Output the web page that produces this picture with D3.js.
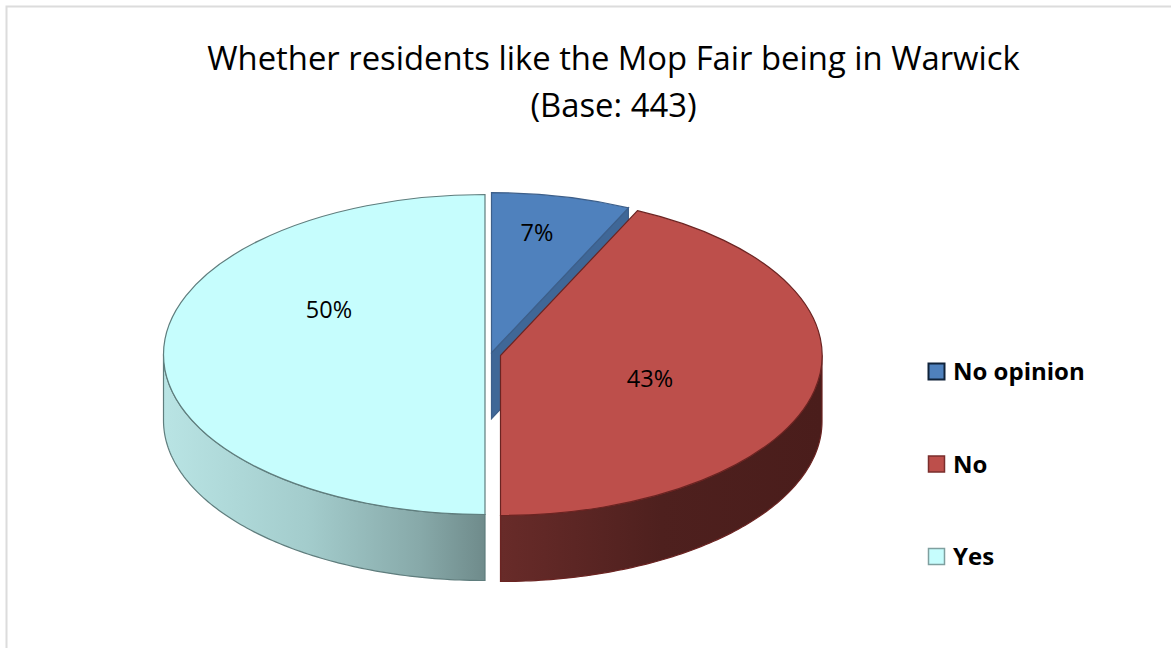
<!DOCTYPE html>
<html>
<head>
<meta charset="utf-8">
<script src="https://cdn.jsdelivr.net/npm/d3@7/dist/d3.min.js"></script>
<style>
html,body{margin:0;padding:0;background:#fff}
svg{display:block}
text{font-family:"Open Sans",sans-serif;fill:#000}
</style>
</head>
<body>
<svg id="chart" width="1171" height="648"></svg>
<script>
const categories = ["No opinion", "No", "Yes"];
const values = [7, 43, 50];
const valueLabels = ["7%", "43%", "50%"];
const titleLines = ["Whether residents like the Mop Fair being in Warwick", "(Base: 443)"];
const topColors = ["#4f81bd", "#bd4f4b", "#c6fdfd"];
const edgeColors = ["#3d5f8a", "#6b2422", "#5f7d7d"];
const swatchStrokes = ["#10233a", "#7a2e2c", "#7f9f9f"];
const centers = [[491.5, 352.7], [500.5, 355.5], [485, 354.5]];
const labelPos = [[537, 232], [650, 378], [329, 309]];

const rx = 321.5, ry = 160, depth = 66;
const svg = d3.select("#chart");
const defs = svg.append("defs");

function gradient(id, x1, x2, stops) {
  const g = defs.append("linearGradient").attr("id", id)
    .attr("gradientUnits", "userSpaceOnUse")
    .attr("x1", x1).attr("x2", x2).attr("y1", 0).attr("y2", 0);
  stops.forEach(s => g.append("stop").attr("offset", s[0]).attr("stop-color", s[1]));
}
gradient("wallNo", 501, 822, [[0, "#682b29"], [0.5, "#4e201e"], [1, "#4a1d1b"]]);
gradient("wallYes", 163, 485, [[0, "#b9e4e4"], [0.45, "#a3cccc"], [0.8, "#87a9a9"], [1, "#6f8b8b"]]);

// frame
svg.append("path").attr("d", "M6.5,648V6.5H1171").attr("fill", "none").attr("stroke", "#dcdcdc").attr("stroke-width", 2);

// title
svg.selectAll("text.title").data(titleLines).join("text").attr("class", "title")
  .attr("x", 613.5).attr("y", (d, i) => 70 + i * 47)
  .attr("text-anchor", "middle").attr("font-size", 32.8).text(d => d);

const slices = d3.pie().sort(null)(values);
const px = (c, a) => c[0] + rx * Math.sin(a);
const py = (c, a) => c[1] - ry * Math.cos(a);
const line = d3.line();

// front wall of a slice: only angles between 90 and 270 degrees face the viewer
function frontWall(i) {
  const c = centers[i], s = slices[i];
  const a0 = Math.max(s.startAngle, Math.PI / 2), a1 = Math.min(s.endAngle, 3 * Math.PI / 2);
  if (a1 <= a0) return null;
  const steps = d3.range(0, 101).map(t => a0 + (a1 - a0) * t / 100);
  const pts = steps.map(a => [px(c, a), py(c, a)]);
  const low = steps.slice().reverse().map(a => [px(c, a), py(c, a) + depth]);
  return line(pts.concat(low)) + "Z";
}

// cut face of the pulled-out "No opinion" slice
const c0 = centers[0], a0 = slices[0].endAngle;
svg.append("path")
  .attr("d", line([[c0[0], c0[1]], [px(c0, a0), py(c0, a0)], [px(c0, a0), py(c0, a0) + depth], [c0[0], c0[1] + depth]]) + "Z")
  .attr("fill", "#3f6797").attr("stroke", edgeColors[0]).attr("stroke-width", 1.2);

// walls
[["wallNo", 1], ["wallYes", 2]].forEach(([id, i]) => {
  svg.append("path").attr("d", frontWall(i)).attr("fill", `url(#${id})`)
    .attr("stroke", edgeColors[i]).attr("stroke-width", 1.2);
});

// tops
const arc = d3.arc().innerRadius(0).outerRadius(1);
svg.selectAll("path.top").data(slices).join("path").attr("class", "top")
  .attr("d", arc)
  .attr("transform", (d, i) => `translate(${centers[i][0]},${centers[i][1]}) scale(${rx},${ry})`)
  .attr("fill", (d, i) => topColors[i])
  .attr("stroke", (d, i) => edgeColors[i])
  .attr("stroke-width", 1.2)
  .attr("vector-effect", "non-scaling-stroke");

// value labels
svg.selectAll("text.val").data(valueLabels).join("text").attr("class", "val")
  .attr("x", (d, i) => labelPos[i][0]).attr("y", (d, i) => labelPos[i][1] + 8.5)
  .attr("text-anchor", "middle").attr("font-size", 23.5).text(d => d);

// legend
const legendY = d3.scalePoint().domain(categories).range([371.5, 556.5]);
const lg = svg.selectAll("g.lg").data(categories).join("g").attr("class", "lg")
  .attr("transform", d => `translate(0,${legendY(d)})`);
lg.append("rect").attr("x", 928.5).attr("y", -8).attr("width", 16).attr("height", 16)
  .attr("fill", (d, i) => topColors[i])
  .attr("stroke", (d, i) => swatchStrokes[i])
  .attr("stroke-width", (d, i) => i === 0 ? 2 : 1.5);
lg.append("text").attr("x", 953).attr("y", 8.5).attr("font-size", 24).attr("font-weight", 700).text(d => d);
</script>
</body>
</html>
